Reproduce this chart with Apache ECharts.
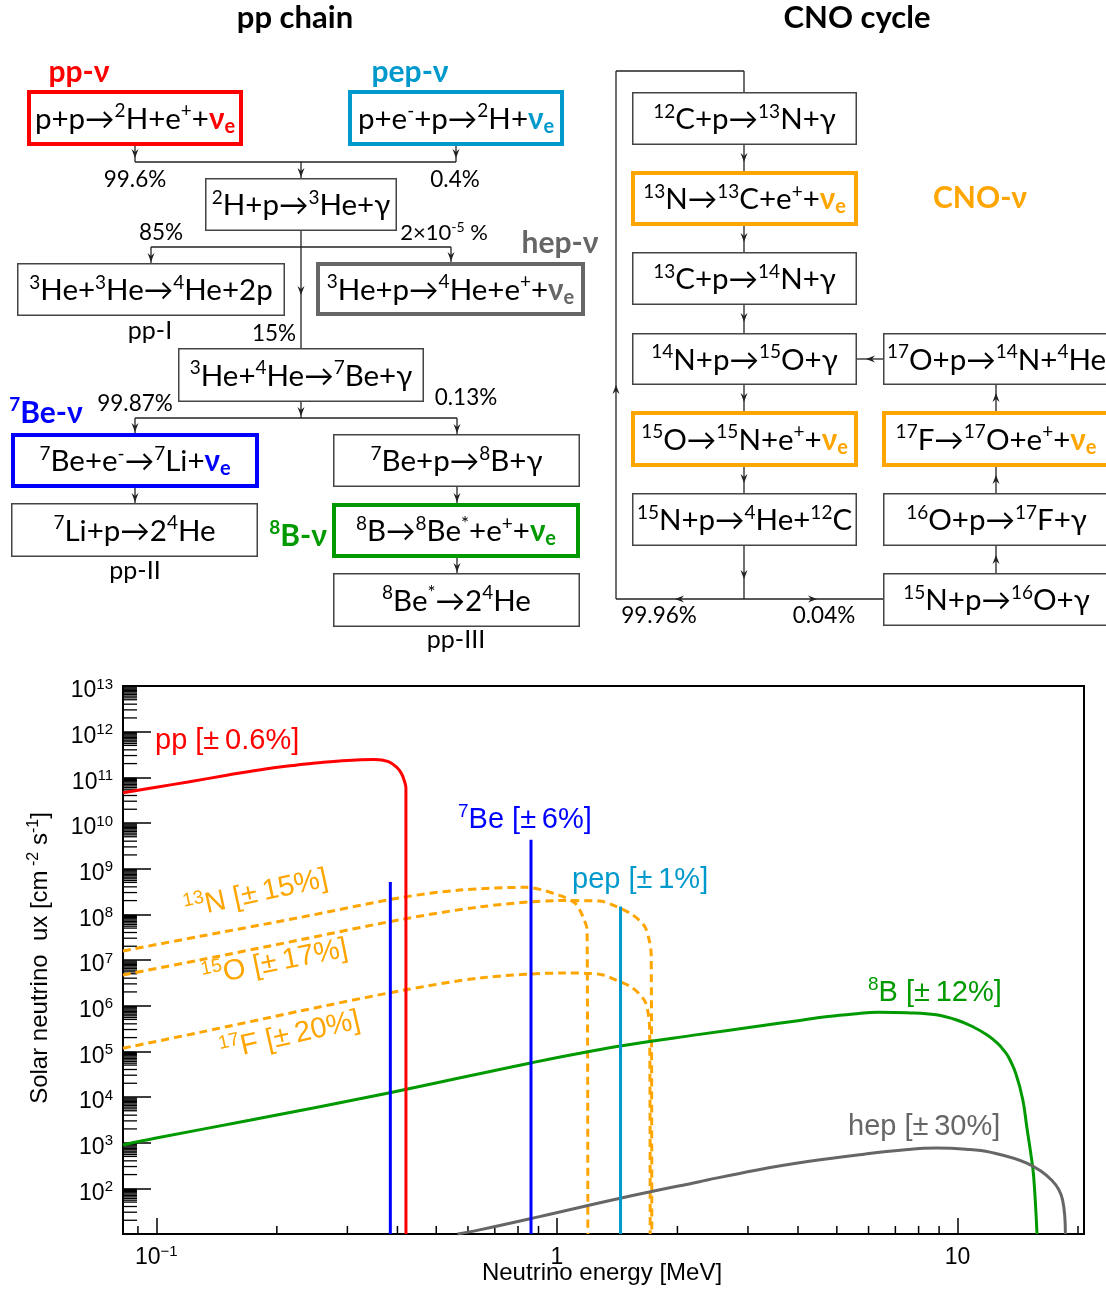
<!DOCTYPE html>
<html><head><meta charset="utf-8">
<script src="https://cdn.jsdelivr.net/npm/echarts@6/dist/echarts.min.js"></script>
<style>html,body{margin:0;padding:0;background:#fff}#c{width:1106px;height:1289px}</style>
</head><body><div id="c"></div>
<script>
// ---------------- data ----------------
const ppEnergy = [0.0826, 0.1, 0.12, 0.15, 0.189, 0.22, 0.25, 0.3, 0.35, 0.38, 0.40, 0.41, 0.417, 0.42, 0.4201];
const ppFlux   = [4.6e10, 6.07e10, 7.9e10, 1.11e11, 1.55e11, 1.82e11, 2.05e11, 2.35e11, 2.45e11, 2.2e11, 1.6e11, 1.18e11, 7.9e10, 5.9e10, 10];
const be7Energy = [0.384, 0.862];
const be7Flux   = [5.1e8, 4.3e9];
const pepEnergy = [1.442];
const pepFlux   = [1.48e8];
const n13Energy = [0.0826, 0.1285, 0.228, 0.405, 0.572, 0.84, 1.015, 1.107, 1.14, 1.17, 1.19, 1.195];
const n13Flux   = [1.58e7, 3.3e7, 8.5e7, 2.3e8, 3.4e8, 3.9e8, 2.6e8, 1.8e8, 1.26e8, 7.6e7, 4.6e7, 10];
const o15Energy = [0.0826, 0.1285, 0.228, 0.405, 0.641, 1.015, 1.278, 1.409, 1.545, 1.655, 1.70, 1.72, 1.726];
const o15Flux   = [4.7e6, 1.0e7, 2.75e7, 7.6e7, 1.45e8, 2.0e8, 1.95e8, 1.48e8, 9.8e7, 5.5e7, 2.75e7, 1.3e7, 10];
const f17Energy = [0.0826, 0.1285, 0.228, 0.405, 0.652, 1.056, 1.278, 1.409, 1.545, 1.655, 1.69, 1.705, 1.71];
const f17Flux   = [1.17e5, 2.6e5, 7.6e5, 2.1e6, 4.1e6, 5.2e6, 4.9e6, 3.6e6, 2.45e6, 1.3e6, 6.9e5, 3.0e5, 10];
const b8Energy = [0.0826, 0.1, 0.171, 0.383, 0.855, 1.425, 2.27, 3.14, 4.0, 4.75, 5.5, 6.34, 7.5, 8.85, 10.0, 10.9, 11.84, 12.6, 13.0, 13.4, 14.0, 14.56, 14.9, 15.24, 15.5, 15.8];
const b8Flux   = [890, 1260, 3.1e3, 1.24e4, 5.5e4, 1.29e5, 2.35e5, 3.5e5, 4.7e5, 5.8e5, 6.6e5, 7.2e5, 7.0e5, 6.3e5, 4.8e5, 3.5e5, 2.3e5, 1.5e5, 1.1e5, 7.6e4, 3.2e4, 8.7e3, 2.2e3, 590, 180, 10];
const hepEnergy = [0.565, 0.641, 0.905, 1.43, 2.27, 3.14, 4.27, 5.85, 7.3, 8.85, 10.5, 12.05, 14.9, 17.2, 18.3, 18.6];
const hepFlux   = [10, 12.3, 24, 60, 140, 250, 390, 560, 690, 760, 720, 620, 355, 150, 56, 10];

const xRange = [0.0826, 20.7];
const yRange = [1e1, 1e13];
const xMinorMult = [2, 3, 4, 5, 6, 7, 8, 9];
const yMinorMult = [2, 3, 4, 5, 5.5, 6, 6.5, 7, 7.5, 8, 8.5, 9, 9.5];
const xDecades = [-2, -1, 0, 1];
const yDecades = [1, 2, 3, 4, 5, 6, 7, 8, 9, 10, 11, 12];

// ---------------- styling ----------------
const DF = 'Lato, "Noto Sans", "DejaVu Sans", sans-serif';
const PF = '"Liberation Sans", Arial, Helvetica, sans-serif';
const RED = '#FF0000', BLUE = '#0000FF', PEP = '#0099CC', ORANGE = '#FFA500', GREEN = '#009900', GRAY = '#666666';

function richText(markup) {
  let out = '', buf = '', i = 0;
  const flush = () => { if (buf) { out += '{n|' + buf + '}'; buf = ''; } };
  while (i < markup.length) {
    const ch = markup[i];
    if (ch === '^' && markup[i + 1] === '{') {
      flush(); const j = markup.indexOf('}', i);
      out += '{s|' + markup.slice(i + 2, j) + '}'; i = j + 1;
    } else if (ch === '~') { flush(); out += '{v|ν}{e|e}'; i++; }
    else { buf += ch; i++; }
  }
  flush();
  return out;
}
function makeRich(size, supSize, color, family, bold, nuColor) {
  const w = bold ? 'bold' : 'normal';
  return {
    n: { fontSize: size, fontFamily: family, fontWeight: w, fill: color, lineHeight: Math.round(size * 1.2) },
    s: { fontSize: supSize, fontFamily: family, fontWeight: w, fill: color, lineHeight: supSize, verticalAlign: 'top' },
    v: { fontSize: size, fontFamily: family, fontWeight: 'bold', fill: nuColor || color, lineHeight: Math.round(size * 1.2) },
    e: { fontSize: Math.round(size * 0.68), fontFamily: family, fontWeight: 'bold', fill: nuColor || color, lineHeight: Math.round(size * 0.68), verticalAlign: 'bottom' }
  };
}

const els = [];
function line(x1, y1, x2, y2) {
  els.push({ type: 'line', silent: true, shape: { x1, y1, x2, y2 }, style: { stroke: '#222', lineWidth: 1.3 } });
}
function head(x, y, dir) {
  const L = 9, W = 3.5, N = 6;
  let p;
  if (dir === 'd') p = [[x, y], [x - W, y - L], [x, y - N], [x + W, y - L]];
  if (dir === 'u') p = [[x, y], [x - W, y + L], [x, y + N], [x + W, y + L]];
  if (dir === 'l') p = [[x, y], [x + L, y - W], [x + N, y], [x + L, y + W]];
  if (dir === 'r') p = [[x, y], [x - L, y - W], [x - N, y], [x - L, y + W]];
  els.push({ type: 'polygon', silent: true, shape: { points: p }, style: { fill: '#222' } });
}
function txt(x, y, markup, rich, align, rotation) {
  els.push({ type: 'text', silent: true, x, y, rotation: rotation || 0,
    style: { text: richText(markup), rich, align: align || 'center', verticalAlign: 'middle' } });
}
function box(x1, y1, x2, y2, color, markup) {
  const lw = color ? 4 : 1.5, o = lw / 2;
  els.push({ type: 'rect', silent: true, shape: { x: x1 + o, y: y1 + o, width: x2 - x1 - lw, height: y2 - y1 - lw },
    style: { fill: 'none', stroke: color || '#444', lineWidth: lw } });
  txt((x1 + x2) / 2, (y1 + y2) / 2 + 1, markup, makeRich(29.5, 19, '#000', DF, false, color || '#000'));
}
function label(x, y, markup, size, color, bold) {
  txt(x, y, markup, makeRich(size, Math.round(size * 0.62), color || '#000', DF, !!bold));
}
function nuLabel(x, y, markup, color) { label(x, y, markup, 30, color, true); }
function plotLabel(x, y, markup, color, align, rot) {
  txt(x, y, markup, makeRich(29, 19, color, PF, false), align, rot);
}

// ---------- pp chain ----------
label(295, 18, 'pp chain', 31, '#000', true);
label(857, 18, 'CNO cycle', 31, '#000', true);
nuLabel(79, 72, 'pp-ν', RED);
nuLabel(410, 72, 'pep-ν', PEP);
box(27, 90, 243, 146, RED, 'p+p→^{2}H+e^{+}+~');
box(348, 90, 564, 146, PEP, 'p+e^{-}+p→^{2}H+~');
line(135, 146, 135, 162); head(135, 158, 'd');
line(456, 146, 456, 162); head(456, 158, 'd');
line(135, 162, 456, 162);
line(301, 162, 301, 178); head(301, 177, 'd');
label(135, 180, '99.6%', 22.5); label(455, 180, '0.4%', 22.5);
box(205, 178, 397, 231, null, '^{2}H+p→^{3}He+γ');
line(301, 231, 301, 348); head(301, 295, 'd');
line(151, 247, 451, 247);
line(151, 247, 151, 263); head(151, 262, 'd');
line(451, 247, 451, 262); head(451, 261, 'd');
label(161, 233, '85%', 22.5); label(444, 233, '2×10^{-5} %', 22);
nuLabel(560, 243, 'hep-ν', GRAY);
box(17, 263, 285, 316, null, '^{3}He+^{3}He→^{4}He+2p');
box(316, 262, 585, 316, GRAY, '^{3}He+p→^{4}He+e^{+}+~');
label(150, 331, 'pp-I', 25); label(274, 334, '15%', 22.5);
box(178, 348, 424, 402, null, '^{3}He+^{4}He→^{7}Be+γ');
line(301, 402, 301, 418); head(301, 416, 'd');
line(135, 418, 457, 418);
line(135, 418, 135, 433); head(135, 432, 'd');
line(457, 418, 457, 434); head(457, 433, 'd');
label(135, 404, '99.87%', 22.5); label(466, 398, '0.13%', 22.5);
nuLabel(46, 413, '^{7}Be-ν', BLUE);
box(11, 433, 259, 488, BLUE, '^{7}Be+e^{-}→^{7}Li+~');
box(333, 434, 580, 487, null, '^{7}Be+p→^{8}B+γ');
line(135, 488, 135, 503); head(135, 502, 'd');
line(457, 487, 457, 503); head(457, 502, 'd');
box(11, 503, 258, 557, null, '^{7}Li+p→2^{4}He');
box(332, 503, 580, 558, GREEN, '^{8}B→^{8}Be^{*}+e^{+}+~');
nuLabel(298, 536, '^{8}B-ν', GREEN);
label(135, 571, 'pp-II', 25);
line(457, 558, 457, 573); head(457, 572, 'd');
box(333, 573, 580, 627, null, '^{8}Be^{*}→2^{4}He');
label(456, 640, 'pp-III', 25);

// ---------- CNO cycle ----------
line(616, 71, 744, 71); line(744, 71, 744, 92);
line(616, 71, 616, 599); head(616, 385, 'u');
box(632, 92, 857, 145, null, '^{12}C+p→^{13}N+γ');
line(744, 145, 744, 171); head(744, 162, 'd');
box(631, 171, 858, 226, ORANGE, '^{13}N→^{13}C+e^{+}+~');
nuLabel(980, 198, 'CNO-ν', ORANGE);
line(744, 226, 744, 252); head(744, 242, 'd');
box(632, 252, 857, 305, null, '^{13}C+p→^{14}N+γ');
line(744, 305, 744, 333); head(744, 322, 'd');
box(632, 333, 857, 385, null, '^{14}N+p→^{15}O+γ');
line(744, 385, 744, 411); head(744, 402, 'd');
box(631, 411, 858, 467, ORANGE, '^{15}O→^{15}N+e^{+}+~');
line(744, 467, 744, 493); head(744, 483, 'd');
box(632, 493, 857, 546, null, '^{15}N+p→^{4}He+^{12}C');
line(744, 546, 744, 599); head(744, 579, 'd');
line(616, 599, 883, 599); head(675, 599, 'l'); head(817, 599, 'r');
label(659, 616, '99.96%', 22.5); label(824, 616, '0.04%', 22.5);
box(883, 333, 1110, 385, null, '^{17}O+p→^{14}N+^{4}He');
line(857, 359, 883, 359); head(866, 359, 'l');
box(882, 411, 1110, 467, ORANGE, '^{17}F→^{17}O+e^{+}+~');
line(996, 411, 996, 385); head(996, 393, 'u');
box(883, 493, 1110, 546, null, '^{16}O+p→^{17}F+γ');
line(996, 493, 996, 467); head(996, 475, 'u');
box(883, 573, 1110, 626, null, '^{15}N+p→^{16}O+γ');
line(996, 573, 996, 546); head(996, 555, 'u');

// ---------- plot labels ----------
const PM = '±\u2009';
plotLabel(155, 741, 'pp [' + PM + '0.6%]', RED, 'left');
plotLabel(458, 820, '^{7}Be [' + PM + '6%]', BLUE, 'left');
plotLabel(572, 880, 'pep [' + PM + '1%]', PEP, 'left');
plotLabel(256, 894, '^{13}N [' + PM + '15%]', ORANGE, 'center', 0.215);
plotLabel(275, 963, '^{15}O [' + PM + '17%]', ORANGE, 'center', 0.2);
plotLabel(290, 1036, '^{17}F [' + PM + '20%]', ORANGE, 'center', 0.225);
plotLabel(868, 993, '^{8}B [' + PM + '12%]', GREEN, 'left');
plotLabel(848, 1127, 'hep [' + PM + '30%]', GRAY, 'left');
txt(602, 1273, 'Neutrino energy [MeV]', makeRich(24, 16, '#000', PF, false), 'center');
txt(40, 958, 'Solar neutrino  ux [cm^{ -2} s^{-1}]', makeRich(24, 16, '#000', PF, false), 'center', Math.PI / 2);

// ---------------- chart ----------------
const zip = (a, b) => a.map((v, i) => [v, b[i]]);
function lineSeries(name, data, color, dashed, smooth) {
  return { name, type: 'line', data, symbol: 'none', smooth: smooth == null ? 0.3 : smooth, clip: true, silent: true,
    lineStyle: { color, width: 3, type: dashed ? [8, 5] : 'solid' }, z: 4 };
}
const xMinor = [], yMinor = [];
xDecades.forEach(d => xMinorMult.forEach(m => { const v = m * Math.pow(10, d); if (v > xRange[0] && v < xRange[1]) xMinor.push(v); }));
yDecades.forEach(d => yMinorMult.forEach(m => yMinor.push(m * Math.pow(10, d))));

function logLabel(v, yAxis) {
  const e = Math.log10(v), r = Math.round(e);
  if (Math.abs(e - r) > 1e-6) return '';
  if (yAxis) return r < 2 ? '' : '{b|10}{s|' + r + '}';
  if (r < 0) return '{b|10}{s|−' + (-r) + '}';
  return '{b|' + Math.pow(10, r) + '}';
}
const axisRich = { b: { fontSize: 23, fontFamily: PF, color: '#000', lineHeight: 28 },
                   s: { fontSize: 15, fontFamily: PF, color: '#000', lineHeight: 15, verticalAlign: 'top' } };

const chart = echarts.init(document.getElementById('c'), null, { renderer: 'canvas' });
chart.setOption({
  animation: false,
  backgroundColor: '#fff',
  grid: { left: 123, top: 686, width: 961, height: 548, show: true, borderColor: '#000', borderWidth: 2, backgroundColor: 'transparent' },
  xAxis: { type: 'log', logBase: 10, min: xRange[0], max: xRange[1],
    axisLine: { show: true, lineStyle: { color: '#000', width: 2 } },
    axisTick: { show: true, inside: true, length: 16, lineStyle: { color: '#000', width: 1.5 } },
    splitLine: { show: false }, minorTick: { show: false },
    axisLabel: { margin: 10, formatter: v => logLabel(v, false), rich: axisRich } },
  yAxis: { type: 'log', logBase: 10, min: yRange[0], max: yRange[1], interval: 1,
    axisLine: { show: true, lineStyle: { color: '#000', width: 2 } },
    axisTick: { show: true, inside: true, length: 28, lineStyle: { color: '#000', width: 1.5 } },
    splitLine: { show: false },
    axisLabel: { margin: 10, padding: [10, 0, 0, 0], formatter: v => logLabel(v, true), rich: axisRich } },
  series: [
    { type: 'custom', silent: true, clip: false, z: 3, data: xMinor.map(v => [v, yRange[0]]),
      renderItem: (p, api) => { const pt = api.coord([api.value(0), api.value(1)]);
        return { type: 'line', shape: { x1: pt[0], y1: pt[1], x2: pt[0], y2: pt[1] - 8 }, style: { stroke: '#000', lineWidth: 1.5 } }; } },
    { type: 'custom', silent: true, clip: false, z: 3, data: yMinor.map(v => [xRange[0], v]),
      renderItem: (p, api) => { const pt = api.coord([api.value(0), api.value(1)]);
        return { type: 'line', shape: { x1: pt[0], y1: pt[1], x2: pt[0] + 14, y2: pt[1] }, style: { stroke: '#000', lineWidth: 1.3 } }; } },
    lineSeries('13N', zip(n13Energy, n13Flux), ORANGE, true),
    lineSeries('15O', zip(o15Energy, o15Flux), ORANGE, true),
    lineSeries('17F', zip(f17Energy, f17Flux), ORANGE, true),
    lineSeries('8B', zip(b8Energy, b8Flux), GREEN, false, 0.4),
    lineSeries('hep', zip(hepEnergy, hepFlux), GRAY, false, 0.4),
    lineSeries('pp', zip(ppEnergy, ppFlux), RED, false, 0.4),
    lineSeries('7Be a', [[be7Energy[0], yRange[0]], [be7Energy[0], be7Flux[0]]], BLUE),
    lineSeries('7Be b', [[be7Energy[1], yRange[0]], [be7Energy[1], be7Flux[1]]], BLUE),
    lineSeries('pep', [[pepEnergy[0], yRange[0]], [pepEnergy[0], pepFlux[0]]], PEP)
  ],
  graphic: { elements: els }
});
</script>
</body></html>
